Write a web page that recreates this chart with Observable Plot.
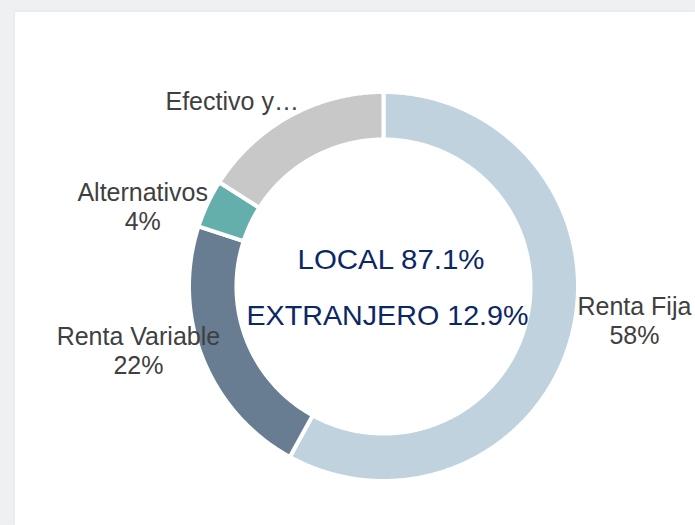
<!DOCTYPE html>
<html><head><meta charset="utf-8">
<script src="https://cdn.jsdelivr.net/npm/d3@7"></script>
<script src="https://cdn.jsdelivr.net/npm/@observablehq/plot@0.6"></script>
<style>
html,body{margin:0;padding:0;width:695px;height:525px;overflow:hidden;background:#eef0f1;}
#panel{position:absolute;left:15px;top:12px;right:0;bottom:0;background:#ffffff;box-shadow:-1px -1px 2px rgba(0,0,0,0.04);}
#chart{position:absolute;left:0;top:0;}
</style></head><body><div id="panel"></div><div id="chart"></div>
<script>
// ---- data ----
const categories = ["Renta Fija", "Renta Variable", "Alternativos", "Efectivo y…"];
const shares = [58, 22, 4, 16];
const sliceLabels = ["Renta Fija\n58%", "Renta Variable\n22%", "Alternativos\n4%", "Efectivo y…"];
const centerLines = ["LOCAL 87.1%", "EXTRANJERO 12.9%"];

// ---- styles / layout ----
const colors = ["#bfd2dd", "#687d92", "#64aeab", "#c8c8c8"];
const W = 695, H = 525, CX = 383, CY = 286, R = 194.5, INNER = 0.756;
const LABEL_R = 1.30;
// pixel nudges for the outside labels (dx, dy)
const labelNudge = [[6, -5], [-10, -6], [-12, 51], [-29.5, 45]];

const pie = d3.pie().sort(null).value(d => d.share)(
  categories.map((c, i) => ({category: c, share: shares[i], label: sliceLabels[i], color: colors[i]}))
);

function ring(a0, a1) {
  const pts = [];
  const n = Math.max(2, Math.ceil((a1 - a0) / (Math.PI / 360)));
  for (let i = 0; i <= n; i++) {
    const a = a0 + (a1 - a0) * i / n;
    pts.push({x: Math.sin(a), y: Math.cos(a)});
  }
  for (let i = n; i >= 0; i--) {
    const a = a0 + (a1 - a0) * i / n;
    pts.push({x: INNER * Math.sin(a), y: INNER * Math.cos(a)});
  }
  pts.push(pts[0]);
  return pts;
}

const labelData = pie.map((p, i) => {
  const mid = (p.startAngle + p.endAngle) / 2;
  return {
    text: p.data.label,
    x: LABEL_R * Math.sin(mid) + labelNudge[i][0] / R,
    y: LABEL_R * Math.cos(mid) - labelNudge[i][1] / R
  };
});

const centerData = [
  {text: centerLines[0], x: (390.5 - CX) / R, y: (CY - 268) / R, len: 187},
  {text: centerLines[1], x: (387 - CX) / R, y: (CY - 324) / R, len: 282}
];

const chart = Plot.plot({
  width: W, height: H, margin: 0,
  x: {domain: [-1, 1], range: [CX - R, CX + R], axis: null},
  y: {domain: [-1, 1], range: [CY + R, CY - R], axis: null},
  style: {fontFamily: "'Liberation Sans', Arial, sans-serif", background: "transparent", overflow: "visible"},
  marks: [
    ...pie.map(p => Plot.line(ring(p.startAngle, p.endAngle), {
      x: "x", y: "y", curve: "linear",
      fill: p.data.color, stroke: "#ffffff", strokeWidth: 4, strokeLinejoin: "round"
    })),
    Plot.text(labelData, {
      x: "x", y: "y", text: "text", fontSize: 25, fill: "#404040",
      textAnchor: "middle", lineAnchor: "bottom", lineHeight: 29 / 25
    }),
    Plot.text(centerData, {
      x: "x", y: "y", text: "text", fontSize: 28, fill: "#0c2766",
      textAnchor: "middle", lineAnchor: "bottom", className: "center-text"
    })
  ]
});
document.getElementById("chart").appendChild(chart);
d3.select(chart).selectAll("g.center-text text").each(function(d, i) {
  this.setAttribute("textLength", centerData[i].len);
  this.setAttribute("lengthAdjust", "spacingAndGlyphs");
});
</script></body></html>
